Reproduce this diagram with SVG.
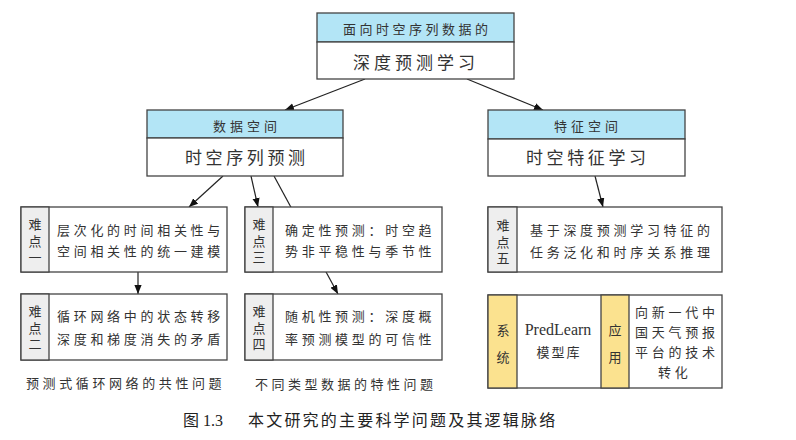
<svg xmlns="http://www.w3.org/2000/svg" width="796" height="440" viewBox="0 0 796 440">
<style>
.box{fill:#fff;stroke:#444;stroke-width:1.3}
.hdr{fill:#B3E5F6;stroke:#444;stroke-width:1.3}
.lab{fill:#EEEEEE;stroke:#444;stroke-width:1.3}
.sys{fill:#FBE28F;stroke:#444;stroke-width:1.3}
.t{font-family:"Noto Sans CJK SC","Noto Sans",sans-serif;fill:#333;font-size:13px;letter-spacing:3.7px}
.v{font-family:"Noto Sans CJK SC","Noto Sans",sans-serif;fill:#333;font-size:13px;writing-mode:vertical-rl;letter-spacing:3.5px}
.v2{letter-spacing:14px}
.h{font-size:13px;letter-spacing:4px}
.m{font-size:17px;letter-spacing:4px}
.c{text-anchor:middle}
.con{stroke:#222;stroke-width:1.2;fill:none;marker-end:url(#ah)}
</style>
<defs>
<marker id="ah" viewBox="0 0 10 8" refX="10" refY="4" markerWidth="9" markerHeight="7.5" markerUnits="userSpaceOnUse" orient="auto">
<path d="M0,0 L10,4 L0,8 z" fill="#111"/>
</marker>
</defs>
<rect width="796" height="440" fill="#fff"/>
<g id="connectors">
<line class="con" x1="365" y1="79" x2="285" y2="110"/>
<line class="con" x1="467" y1="79" x2="543" y2="110"/>
<line class="con" x1="223" y1="176" x2="189" y2="207"/>
<line class="con" x1="251" y1="176" x2="258" y2="207"/>
<line class="con" x1="274" y1="176" x2="338" y2="294"/>
<line class="con" x1="138" y1="272" x2="138" y2="294"/>
<line class="con" x1="595" y1="176" x2="603" y2="207"/>
</g>
<g id="top">
<rect class="hdr" x="317" y="13" width="197" height="29"/>
<rect class="box" x="317" y="42" width="197" height="37"/>
<text class="t h" x="343" y="34" style="letter-spacing:3.5px">面向时空序列数据的</text>
<text class="t m" x="353" y="68.5">深度预测学习</text>
</g>
<g id="data-space">
<rect class="hdr" x="147" y="110" width="196" height="28"/>
<rect class="box" x="147" y="138" width="196" height="38"/>
<text class="t h" x="213" y="131">数据空间</text>
<text class="t m" x="185" y="163.5" style="letter-spacing:3.6px">时空序列预测</text>
</g>
<g id="feature-space">
<rect class="hdr" x="488" y="110" width="197" height="29"/>
<rect class="box" x="488" y="139" width="197" height="37"/>
<text class="t h" x="554" y="131">特征空间</text>
<text class="t m" x="526" y="163.5" style="letter-spacing:3.6px">时空特征学习</text>
</g>
<g id="d1">
<rect class="box" x="21" y="207" width="206" height="65"/>
<rect class="lab" x="21" y="207" width="28" height="65"/>
<text class="v" x="35" y="218">难点一</text>
<text class="t" x="57" y="235">层次化的时间相关性与</text>
<text class="t" x="57" y="256">空间相关性的统一建模</text>
</g>
<g id="d3">
<rect class="box" x="245" y="207" width="197" height="65"/>
<rect class="lab" x="245" y="207" width="28" height="65"/>
<text class="v" x="259" y="218">难点三</text>
<text class="t" x="285" y="235">确定性预测：时空趋</text>
<text class="t" x="285" y="256">势非平稳性与季节性</text>
</g>
<g id="d5">
<rect class="box" x="488" y="207" width="234" height="65"/>
<rect class="lab" x="488" y="207" width="29" height="65"/>
<text class="v" x="503" y="219">难点五</text>
<text class="t" x="530" y="235">基于深度预测学习特征的</text>
<text class="t" x="530" y="257">任务泛化和时序关系推理</text>
</g>
<g id="d2">
<rect class="box" x="21" y="294" width="206" height="66"/>
<rect class="lab" x="21" y="294" width="28" height="66"/>
<text class="v" x="35" y="305">难点二</text>
<text class="t" x="57" y="321">循环网络中的状态转移</text>
<text class="t" x="57" y="344">深度和梯度消失的矛盾</text>
</g>
<g id="d4">
<rect class="box" x="245" y="294" width="197" height="66"/>
<rect class="lab" x="245" y="294" width="28" height="66"/>
<text class="v" x="259" y="305">难点四</text>
<text class="t" x="285" y="321">随机性预测：深度概</text>
<text class="t" x="285" y="344">率预测模型的可信性</text>
</g>
<g id="label-left">
<text class="t" x="26" y="388" style="letter-spacing:3.6px">预测式循环网络的共性问题</text>
</g>
<g id="label-mid">
<text class="t" x="255" y="389" style="letter-spacing:3.5px">不同类型数据的特性问题</text>
</g>
<g id="system-app">
<rect class="box" x="488" y="295" width="234" height="93"/>
<rect class="sys" x="488" y="295" width="29" height="93"/>
<rect class="sys" x="601" y="295" width="28" height="93"/>
<text class="v v2" x="503" y="323.5">系统</text>
<text x="558" y="335" text-anchor="middle" font-family="Liberation Serif, serif" font-size="16" fill="#333">PredLearn</text>
<text class="t c" x="559" y="357" style="letter-spacing:2px">模型库</text>
<text class="v v2" x="615" y="323.5">应用</text>
<text class="t" style="letter-spacing:3.75px"><tspan x="635" y="317">向新一代中</tspan><tspan x="635" y="337">国天气预报</tspan><tspan x="635" y="357">平台的技术</tspan><tspan x="658" y="377">转化</tspan></text>
</g>
<g id="caption">
<text x="183" y="426" font-family="Liberation Serif, Noto Sans CJK SC, serif" font-size="16" fill="#222">图 1.3</text>
<text x="248" y="426" font-family="Liberation Serif, Noto Sans CJK SC, serif" font-size="16" fill="#222" letter-spacing="2.2">本文研究的主要科学问题及其逻辑脉络</text>
</g>
</svg>
